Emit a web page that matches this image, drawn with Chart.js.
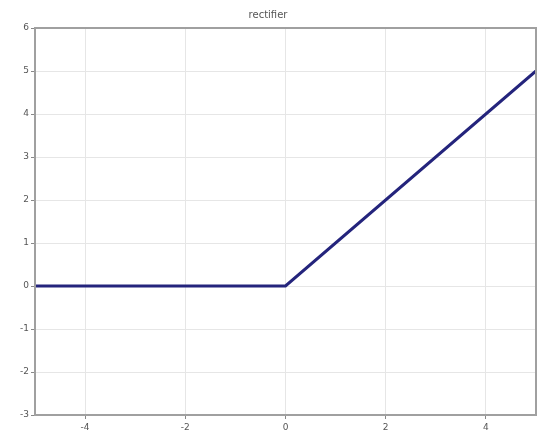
<!DOCTYPE html>
<html>
<head>
<meta charset="utf-8">
<style>
  html, body { margin: 0; padding: 0; background: #ffffff; }
  #wrap { width: 551px; height: 440px; }
</style>
<script src="https://cdn.jsdelivr.net/npm/chart.js@4/dist/chart.umd.min.js"></script>
</head>
<body>
<div id="wrap"><canvas id="c" width="551" height="440"></canvas></div>
<script>
// Rectifier: y = max(0, x), sampled at its break points
const xValues = [-5, 0, 5];
const yValues = [0, 0, 5];
const xTicks = [-4, -2, 0, 2, 4];
const yTicks = [-3, -2, -1, 0, 1, 2, 3, 4, 5, 6];

const points = xValues.map((x, i) => ({ x: x, y: yValues[i] }));

// Frame around the plotting area
const frame = {
  id: 'frame',
  afterDraw(chart) {
    const { ctx, chartArea: a } = chart;
    ctx.save();
    ctx.strokeStyle = '#a0a0a0';
    ctx.lineWidth = 2;
    ctx.strokeRect(a.left, a.top, a.right - a.left, a.bottom - a.top);
    ctx.restore();
  }
};

new Chart(document.getElementById('c'), {
  type: 'line',
  data: {
    datasets: [{
      data: points,
      borderColor: '#24247c',
      borderWidth: 3,
      pointRadius: 0,
      tension: 0,
      fill: false
    }]
  },
  options: {
    responsive: false,
    animation: false,
    layout: { padding: { top: 0, right: 15, bottom: 0, left: 0 } },
    plugins: {
      legend: { display: false },
      tooltip: { enabled: false },
      title: {
        display: true,
        text: 'rectifier',
        color: '#555',
        font: { family: 'DejaVu Sans', size: 10, weight: 'normal' },
        padding: { top: 9, bottom: 7 }
      }
    },
    scales: {
      x: {
        type: 'linear',
        min: -5,
        max: 5,
        afterBuildTicks(s) { s.ticks = xTicks.map(v => ({ value: v })); },
        afterFit(s) { s.height = 25; },
        ticks: {
          color: '#555',
          font: { family: 'DejaVu Sans', size: 9 },
          padding: 3,
          maxRotation: 0
        },
        grid: { color: '#e6e6e6', tickColor: '#888', tickLength: 4 },
        border: { color: '#a0a0a0', width: 2 }
      },
      y: {
        type: 'linear',
        min: -3,
        max: 6,
        afterBuildTicks(s) { s.ticks = yTicks.map(v => ({ value: v })); },
        afterFit(s) { s.width = 35; },
        ticks: {
          color: '#555',
          font: { family: 'DejaVu Sans', size: 9 },
          padding: 2
        },
        grid: { color: '#e6e6e6', tickColor: '#888', tickLength: 4 },
        border: { color: '#a0a0a0', width: 2 }
      }
    }
  },
  plugins: [frame]
});
</script>
</body>
</html>
